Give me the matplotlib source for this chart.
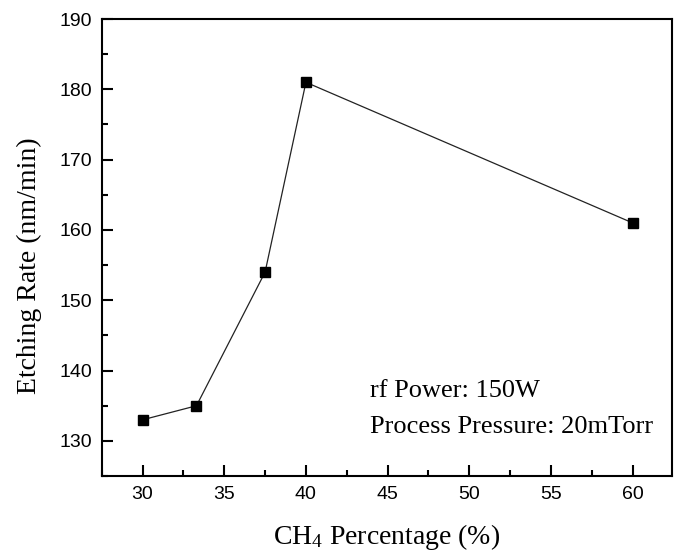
import matplotlib.pyplot as plt
from matplotlib.ticker import MultipleLocator

# CH4 percentage vs etching rate
ch4_pct = [30, 33.3, 37.5, 40, 60]
etch_rate = [133, 135, 154, 181, 161]

x_label = 'CH$_4$ Percentage (%)'
y_label = 'Etching Rate (nm/min)'
notes = ['rf Power: 150W', 'Process Pressure: 20mTorr']

plt.rcParams['mathtext.fontset'] = 'custom'
plt.rcParams['mathtext.rm'] = 'Liberation Serif'
plt.rcParams['mathtext.it'] = 'Liberation Serif'

fig = plt.figure(figsize=(6.78, 5.51), dpi=100)
ax = fig.add_axes([0.150, 0.136, 0.841, 0.8295])

ax.plot(ch4_pct, etch_rate, color='#222222', linewidth=0.9,
        marker='s', markersize=7, markerfacecolor='black', markeredgecolor='black')

ax.set_xlim(27.5, 62.4)
ax.set_ylim(125, 190)
ax.xaxis.set_major_locator(MultipleLocator(5))
ax.xaxis.set_minor_locator(MultipleLocator(2.5))
ax.yaxis.set_major_locator(MultipleLocator(10))
ax.yaxis.set_minor_locator(MultipleLocator(5))
ax.tick_params(which='both', direction='in', top=False, right=False, width=1.5)
ax.tick_params(which='major', length=8, labelsize=14, pad=7)
ax.tick_params(which='minor', length=4)
for lbl in ax.get_xticklabels() + ax.get_yticklabels():
    lbl.set_family('Liberation Sans')
for s in ax.spines.values():
    s.set_linewidth(1.5)

ax.set_xlabel(x_label, family='Liberation Serif', fontsize=20, labelpad=14)
ax.set_ylabel(y_label, family='Liberation Serif', fontsize=20)
ax.yaxis.set_label_coords(-0.105, 0.46)

# annotation, one line per entry
for frac, line in zip([0.173, 0.094], notes):
    ax.text(0.47, frac, line, transform=ax.transAxes,
            family='Liberation Serif', fontsize=19, va='baseline', ha='left')

fig.savefig('out.png', dpi=100)
